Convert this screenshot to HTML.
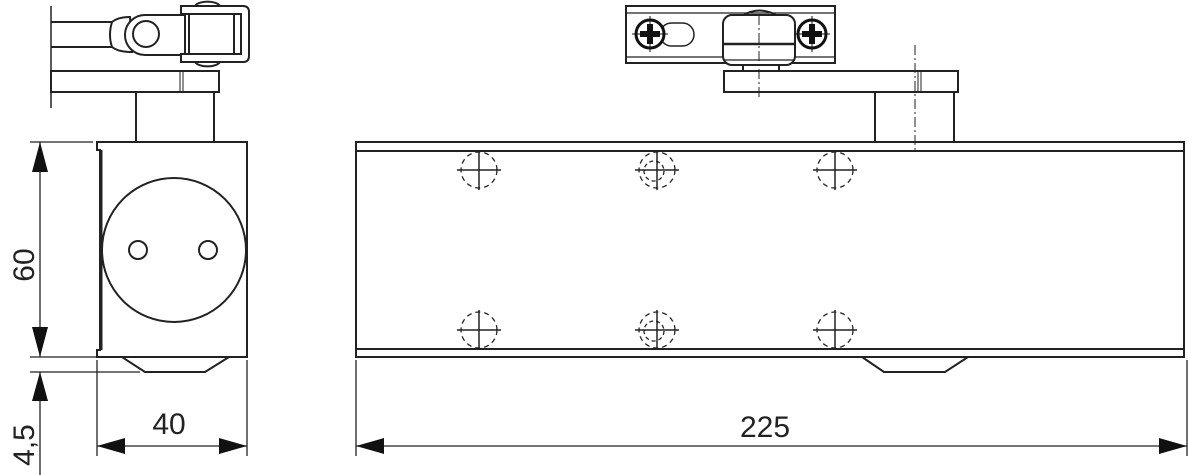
<!DOCTYPE html>
<html><head><style>html,body{margin:0;padding:0;background:#fff}svg{display:block}</style></head><body>
<svg width="1188" height="475" viewBox="0 0 1188 475" xmlns="http://www.w3.org/2000/svg" font-family="Liberation Sans, sans-serif">
<defs>
<g id="hole"><circle r="18" fill="none" stroke="#222" stroke-width="1.3" stroke-dasharray="5,4"/><line x1="-22" y1="0" x2="22" y2="0" stroke="#222" stroke-width="1.5"/><line x1="0" y1="-20" x2="0" y2="20" stroke="#222" stroke-width="1.5"/></g>
<g id="hole2"><use href="#hole"/><circle cx="-3" cy="1" r="10" fill="none" stroke="#222" stroke-width="1.3" stroke-dasharray="4,3"/></g>
<g id="screw"><circle r="14" fill="#fff" stroke="#111" stroke-width="3"/><path d="M-3,-10h6v7h7v6h-7v7h-6v-7h-7v-6h7z" fill="#111"/><line x1="-18" y1="0" x2="18" y2="0" stroke="#111" stroke-width="1"/><line x1="0" y1="-18" x2="0" y2="18" stroke="#111" stroke-width="1"/></g>
</defs>
<g fill="none" stroke="#222" stroke-width="2">
<line x1="51" y1="6" x2="51" y2="108" stroke-width="1.5"/>
<line x1="51" y1="22" x2="112" y2="22"/><line x1="51" y1="47" x2="112" y2="47"/>
<path d="M112,22 Q118,17 130,17 L132,52 Q118,52 112,47 Q108,35 112,22z"/>
<path d="M145,15 H185 V55 H145 A20,20 0 0 1 145,15z" fill="#fff"/>
<circle cx="146" cy="34" r="13"/>
<path d="M195,6 A13,6 0 0 1 220,6 M195,62 A13,6 0 0 0 220,62"/>
<path d="M181,6 H243 Q249,6 249,12 V56 Q249,62 243,62 H181 V54 H241 V14 H181z" fill="#fff"/>
<rect x="189" y="14" width="52" height="40"/>
<line x1="234" y1="14" x2="234" y2="54"/>
<rect x="51" y="71" width="168" height="21"/>
<line x1="180" y1="71" x2="180" y2="92" stroke-width="1"/><line x1="183" y1="71" x2="183" y2="92" stroke-width="1"/>
<line x1="136" y1="92" x2="136" y2="142"/><line x1="214" y1="92" x2="214" y2="142"/>
<path d="M97,142 H247 V357 H97 V350 H100 V150 H97z"/>
<line x1="101" y1="150" x2="101" y2="350" stroke-width="3"/>
<circle cx="174" cy="250" r="72"/>
<circle cx="138" cy="250" r="9"/><circle cx="208" cy="250" r="9"/>
<path d="M122,357 L145,372 H205 L229,357"/>
<g stroke-width="1.3">
<line x1="30" y1="142" x2="93" y2="142"/><line x1="30" y1="357" x2="97" y2="357"/><line x1="30" y1="372" x2="140" y2="372"/>
<line x1="40" y1="142" x2="40" y2="357"/><line x1="40" y1="372" x2="40" y2="475"/>
<line x1="97" y1="360" x2="97" y2="456"/><line x1="247" y1="360" x2="247" y2="456"/>
<line x1="97" y1="446" x2="247" y2="446"/>
</g>
<rect x="356" y="142" width="828" height="215"/>
<line x1="356" y1="151" x2="1184" y2="151"/><line x1="356" y1="349" x2="1184" y2="349"/>
<path d="M862,357 L884,372 H945 L968,357"/>
<rect x="626" y="6" width="209" height="57"/>
<line x1="626" y1="13" x2="835" y2="13" stroke-width="1.3"/><line x1="626" y1="57" x2="835" y2="57" stroke-width="1.3"/>
<rect x="660" y="23" width="34" height="23" rx="11.5" stroke-width="1.5" fill="#fff"/>
<path d="M742,16 Q759,5 778,16" />
<rect x="723" y="15" width="72" height="50" rx="9" fill="#fff"/>
<line x1="723" y1="44" x2="795" y2="44" stroke-width="2.5"/>
<line x1="723" y1="60" x2="795" y2="60" stroke-width="1.3"/>
<line x1="743" y1="65" x2="743" y2="71"/><line x1="779" y1="65" x2="779" y2="71"/>
<rect x="724" y="71" width="234" height="21"/>
<line x1="918" y1="71" x2="918" y2="92" stroke-width="1"/><line x1="921" y1="71" x2="921" y2="92" stroke-width="1"/>
<line x1="875" y1="92" x2="875" y2="142"/><line x1="954" y1="92" x2="954" y2="142"/>
<line x1="759" y1="15" x2="759" y2="98" stroke-width="1" stroke-dasharray="10,3,2,3"/>
<line x1="915" y1="45" x2="915" y2="151" stroke-width="1" stroke-dasharray="10,3,2,3"/>
<g stroke-width="1.3">
<line x1="356" y1="360" x2="356" y2="456"/><line x1="1187" y1="360" x2="1187" y2="456"/>
<line x1="356" y1="446" x2="1187" y2="446"/>
</g>
</g>
<use href="#screw" x="650" y="34"/><use href="#screw" x="812" y="34"/>
<use href="#hole" x="479" y="170"/><use href="#hole2" x="657" y="170"/><use href="#hole" x="835" y="170"/>
<use href="#hole" x="479" y="330"/><use href="#hole2" x="657" y="330"/><use href="#hole" x="835" y="330"/>
<g fill="#111">
<path d="M40,142 L32,172 H48z"/><path d="M40,357 L32,327 H48z"/><path d="M40,372 L32,401 H48z"/>
<path d="M97,446 L125,438 V454z"/><path d="M247,446 L219,438 V454z"/>
<path d="M356,446 L384,438 V454z"/><path d="M1187,446 L1159,438 V454z"/>
</g>
<g font-size="30" fill="#222">
<text x="169" y="434" text-anchor="middle">40</text>
<text x="765" y="437" text-anchor="middle">225</text>
<text transform="translate(34,265) rotate(-90)" text-anchor="middle">60</text>
<text transform="translate(34,445) rotate(-90)" text-anchor="middle">4,5</text>
</g>
</svg>
</body></html>
